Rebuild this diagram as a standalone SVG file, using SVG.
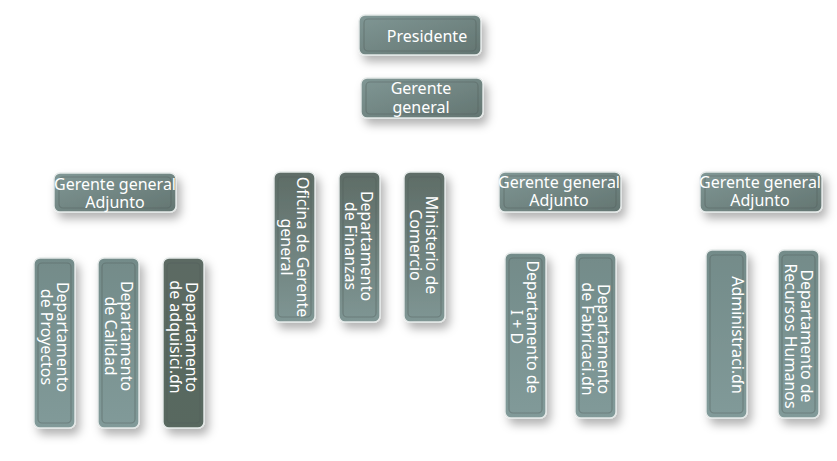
<svg xmlns="http://www.w3.org/2000/svg" width="837" height="461" viewBox="0 0 837 461">
<defs>
<linearGradient id="gH" x1="0" y1="0" x2="1" y2="1">
<stop offset="0" stop-color="#809795"/><stop offset="1" stop-color="#637571"/>
</linearGradient>
<linearGradient id="gV" x1="0" y1="0" x2="0" y2="1">
<stop offset="0" stop-color="#738b89"/><stop offset="1" stop-color="#819a99"/>
</linearGradient>
<linearGradient id="gD" x1="0" y1="0" x2="0" y2="1">
<stop offset="0" stop-color="#5c6b63"/><stop offset="1" stop-color="#58685f"/>
</linearGradient>
<linearGradient id="gM" x1="0" y1="0" x2="0" y2="1">
<stop offset="0" stop-color="#5e6c66"/><stop offset="1" stop-color="#7f9694"/>
</linearGradient>
<filter id="sh" x="-50%" y="-50%" width="200%" height="200%">
<feDropShadow dx="4" dy="6" stdDeviation="5" flood-color="#000" flood-opacity="0.3"/>
</filter>
</defs>
<style>
.box{stroke:#e4e9e8;stroke-width:1.4;filter:url(#sh)}
.in{fill:none;stroke:#4f5d59;stroke-opacity:0.4;stroke-width:1.2}
.t{font-family:"Noto Sans","DejaVu Sans",sans-serif;font-size:16px;fill:#ffffff;text-anchor:middle}
.c{stroke:#ffffff;stroke-width:1;fill:none}
</style>
<rect width="837" height="461" fill="#ffffff"/>
<g id="connectors">
<path class="c" d="M420,55 V78"/>
<path class="c" d="M422,118 V140 M115,140 H761 M115,140 V173 M294,140 V172 M359,140 V172 M424,140 V172 M560,140 V172 M761,140 V172"/>
<path class="c" d="M115,212 V240 M48,240 H190 M48,240 V258 M118,240 V258 M190,240 V258"/>
<path class="c" d="M560,212 V233 M526,233 H596 M526,233 V253 M596,233 V253"/>
<path class="c" d="M761,212 V229 M724,229 H795 M724,229 V250 M795,229 V250"/>
</g>
<g id="presidente">
<rect class="box" x="359" y="15" width="122" height="40" rx="6" fill="url(#gH)"/>
<rect class="in" x="364" y="19" width="112" height="32" rx="4"/>
<text class="t" x="427" y="42">Presidente</text>
</g>
<g id="gerente-general">
<rect class="box" x="361" y="78" width="122" height="40" rx="6" fill="url(#gH)"/>
<rect class="in" x="366" y="82" width="112" height="32" rx="4"/>
<text class="t" x="421" y="94">Gerente</text>
<text class="t" x="421" y="113">general</text>
</g>
<g id="gga-1">
<rect class="box" x="54" y="173" width="122" height="39" rx="6" fill="url(#gH)"/>
<rect class="in" x="59" y="177" width="112" height="31" rx="4"/>
<text class="t" x="115" y="190">Gerente general</text>
<text class="t" x="115" y="208">Adjunto</text>
</g>
<g id="gga-2">
<rect class="box" x="499" y="172" width="122" height="40" rx="6" fill="url(#gH)"/>
<rect class="in" x="504" y="176" width="112" height="32" rx="4"/>
<text class="t" x="559" y="188">Gerente general</text>
<text class="t" x="559" y="206">Adjunto</text>
</g>
<g id="gga-3">
<rect class="box" x="700" y="172" width="122" height="40" rx="6" fill="url(#gH)"/>
<rect class="in" x="705" y="176" width="112" height="32" rx="4"/>
<text class="t" x="760" y="188">Gerente general</text>
<text class="t" x="760" y="206">Adjunto</text>
</g>
<g id="proyectos">
<rect class="box" x="34" y="258" width="41" height="170" rx="6" fill="url(#gV)"/>
<rect class="in" x="38" y="263" width="33" height="160" rx="4"/>
<text class="t" transform="translate(54.5,337) rotate(90)"><tspan x="0" y="-2.5">Departamento</tspan><tspan x="0" y="13.5">de Proyectos</tspan></text>
</g>
<g id="calidad">
<rect class="box" x="98" y="258" width="41" height="170" rx="6" fill="url(#gV)"/>
<rect class="in" x="102" y="263" width="33" height="160" rx="4"/>
<text class="t" transform="translate(118.5,336) rotate(90)"><tspan x="0" y="-2.5">Departamento</tspan><tspan x="0" y="13.5">de Calidad</tspan></text>
</g>
<g id="adquisicion">
<rect class="box" x="163" y="258" width="41" height="170" rx="6" fill="url(#gD)"/>
<rect class="in" x="167" y="263" width="33" height="160" rx="4"/>
<text class="t" transform="translate(183.5,337) rotate(90)"><tspan x="0" y="-2.5">Departamento</tspan><tspan x="0" y="13.5">de adquisici.ɗn</tspan></text>
</g>
<g id="oficina">
<rect class="box" x="274" y="172" width="41" height="150" rx="6" fill="url(#gM)"/>
<rect class="in" x="278" y="177" width="33" height="140" rx="4"/>
<text class="t" transform="translate(294,247) rotate(90)"><tspan x="0" y="-2.5">Oficina de Gerente</tspan><tspan x="0" y="13.5">general</tspan></text>
</g>
<g id="finanzas">
<rect class="box" x="339" y="172" width="41" height="150" rx="6" fill="url(#gM)"/>
<rect class="in" x="343" y="177" width="33" height="140" rx="4"/>
<text class="t" transform="translate(358.5,246) rotate(90)"><tspan x="0" y="-2.5">Departamento</tspan><tspan x="0" y="13.5">de Finanzas</tspan></text>
</g>
<g id="comercio">
<rect class="box" x="404" y="172" width="41" height="150" rx="6" fill="url(#gM)"/>
<rect class="in" x="408" y="177" width="33" height="140" rx="4"/>
<text class="t" transform="translate(423.5,245) rotate(90)"><tspan x="0" y="-2.5">Ministerio de</tspan><tspan x="0" y="13.5">Comercio</tspan></text>
</g>
<g id="i-d">
<rect class="box" x="505" y="253" width="41" height="165" rx="6" fill="url(#gV)"/>
<rect class="in" x="509" y="258" width="33" height="155" rx="4"/>
<text class="t" transform="translate(524.5,327) rotate(90)"><tspan x="0" y="-2.5">Departamento de</tspan><tspan x="0" y="13.5">I + D</tspan></text>
</g>
<g id="fabricacion">
<rect class="box" x="575" y="253" width="41" height="165" rx="6" fill="url(#gV)"/>
<rect class="in" x="579" y="258" width="33" height="155" rx="4"/>
<text class="t" transform="translate(595.5,339) rotate(90)"><tspan x="0" y="-2.5">Departamento</tspan><tspan x="0" y="13.5">de Fabricaci.ɗn</tspan></text>
</g>
<g id="administracion">
<rect class="box" x="706" y="250" width="41" height="168" rx="6" fill="url(#gV)"/>
<rect class="in" x="710" y="255" width="33" height="158" rx="4"/>
<text class="t" transform="translate(726.5,335) rotate(90)"><tspan x="0" y="-5.5">Administraci.ɗn</tspan></text>
</g>
<g id="rrhh">
<rect class="box" x="778" y="250" width="41" height="168" rx="6" fill="url(#gV)"/>
<rect class="in" x="782" y="255" width="33" height="158" rx="4"/>
<text class="t" transform="translate(798.5,336) rotate(90)"><tspan x="0" y="-2.5">Departamento de</tspan><tspan x="0" y="13.5">Recursos Humanos</tspan></text>
</g>
</svg>
